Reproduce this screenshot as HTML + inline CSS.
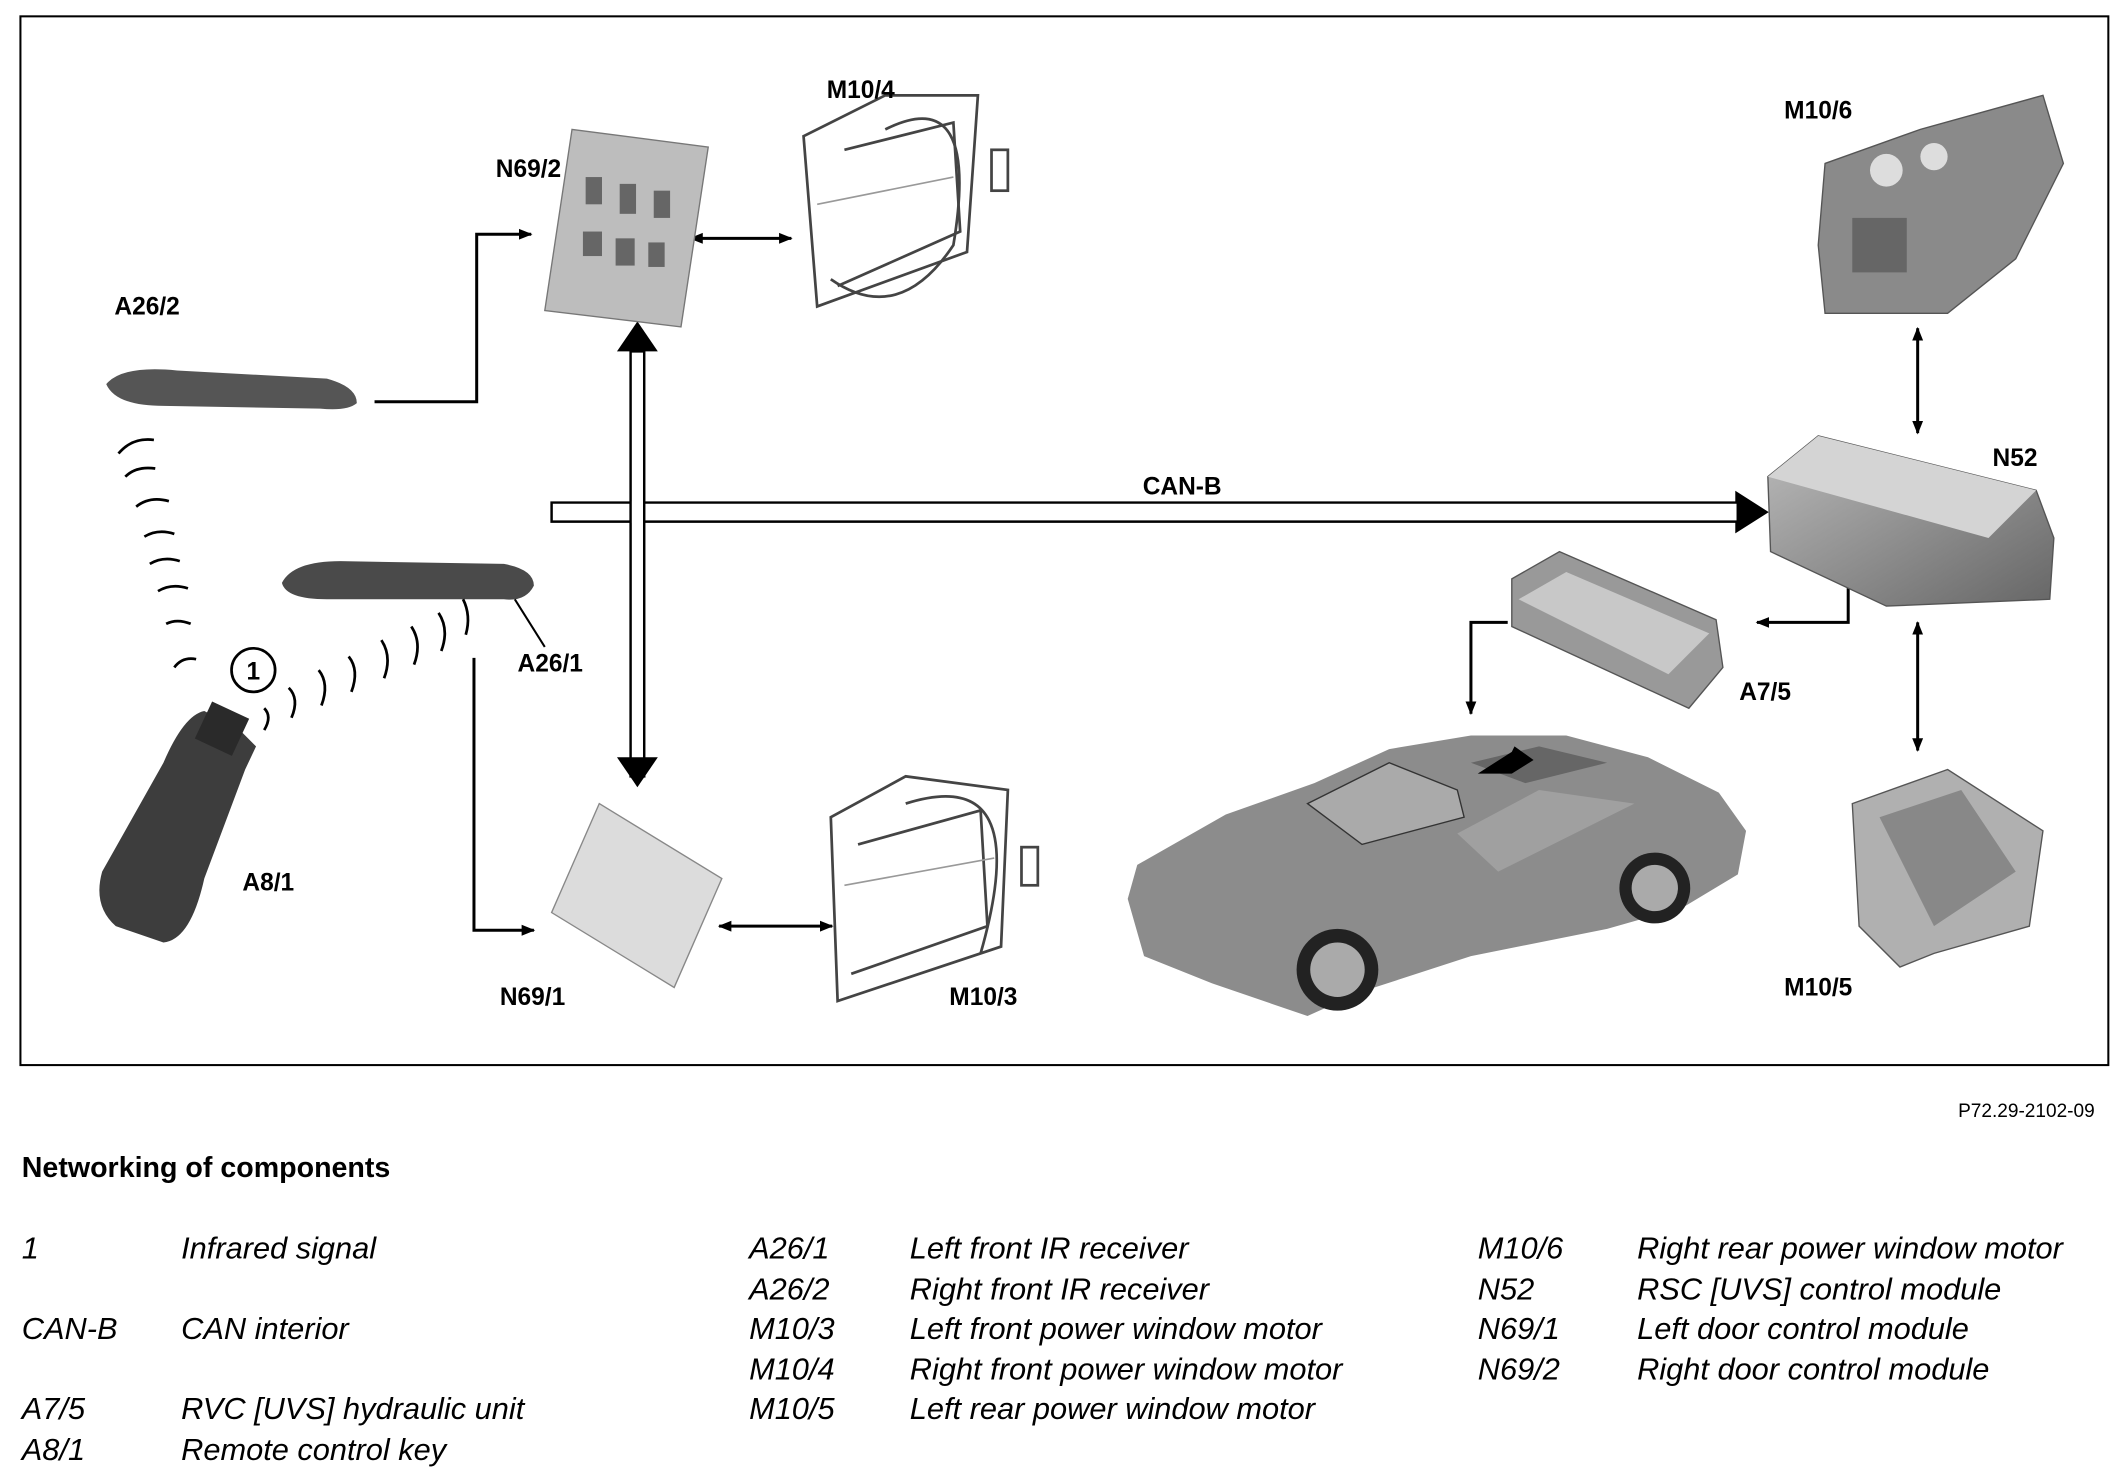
<!DOCTYPE html>
<html><head><meta charset="utf-8"><style>
html,body{margin:0;padding:0;background:#fff}
svg{display:block}
text{font-family:"Liberation Sans",Arial,sans-serif}
.b{font-weight:bold;font-size:18px}
.i{font-style:italic;font-size:22.6px}
</style></head><body>
<svg width="2124" height="1476" viewBox="0 0 1559.5 1083.7" preserveAspectRatio="none" xmlns="http://www.w3.org/2000/svg">
<defs>
<marker id="ah" markerWidth="10" markerHeight="10" refX="9" refY="5" orient="auto" markerUnits="userSpaceOnUse"><path d="M0,1 L10,5 L0,9 Z" fill="#000"/></marker>
<marker id="ahs" markerWidth="10" markerHeight="10" refX="1" refY="5" orient="auto" markerUnits="userSpaceOnUse"><path d="M10,1 L0,5 L10,9 Z" fill="#000"/></marker>
<linearGradient id="g1" x1="0" y1="0" x2="1" y2="1"><stop offset="0" stop-color="#bbb"/><stop offset="1" stop-color="#666"/></linearGradient>
</defs>
<rect x="15" y="12" width="1533" height="770" fill="none" stroke="#000" stroke-width="1.5"/>

<g stroke="#000" stroke-width="2.2" fill="none">
<path d="M275,295 H350 V172 H390" marker-end="url(#ah)"/>
<path d="M348,483 V683 H392" marker-end="url(#ah)"/>
<path d="M507,175 H581" marker-start="url(#ahs)" marker-end="url(#ah)"/>
<path d="M528,680 H611" marker-start="url(#ahs)" marker-end="url(#ah)"/>
<path d="M1408,241 V318" marker-start="url(#ahs)" marker-end="url(#ah)"/>
<path d="M1408,457 V551" marker-start="url(#ahs)" marker-end="url(#ah)"/>
<path d="M1357,430 V457 H1290" marker-end="url(#ah)"/>
<path d="M1107,457 H1080 V524" marker-end="url(#ah)"/>
</g>
<path d="M405,369 H1275 V362 L1297,376 L1275,390 V383 H405 Z" fill="#fff" stroke="#000" stroke-width="1.8"/>
<path d="M1275,362 L1297,376 L1275,390 Z" fill="#000"/>
<path d="M463,258 H473 V570 H463 Z" fill="#fff" stroke="#000" stroke-width="1.8"/>
<rect x="464" y="368" width="8" height="16" fill="#fff"/>
<path d="M453,258 L468,236 L483,258 Z" fill="#000"/>
<path d="M453,556 L468,578 L483,556 Z" fill="#000"/>

<path d="M78,282 Q90,268 130,272 L240,278 Q262,284 262,296 Q255,302 235,300 L120,298 Q85,298 78,282 Z" fill="#555"/>
<path d="M207,428 Q215,412 250,412 L370,414 Q392,418 392,430 Q386,442 370,440 L240,440 Q210,440 207,428 Z" fill="#4a4a4a"/>
<path d="M150,522 L175,535 L188,548 L180,565 L150,645 Q140,690 120,692 L85,680 Q68,665 75,640 L120,560 Q135,525 150,522 Z" fill="#3d3d3d"/>
<rect x="148" y="520" width="30" height="30" fill="#2a2a2a" transform="rotate(25 163 535)"/>
<g stroke="#000" stroke-width="2" fill="none">
<path d="M87,333 q10,-12 26,-10"/><path d="M92,350 q8,-8 22,-6"/><path d="M100,372 q10,-8 24,-4"/>
<path d="M106,394 q10,-6 22,-2"/><path d="M110,414 q10,-6 22,-2"/><path d="M116,434 q10,-6 22,-2"/>
<path d="M122,458 q8,-4 18,0"/><path d="M128,490 q6,-8 16,-6"/>
<path d="M194,520 q6,6 0,16"/><path d="M212,505 q8,8 2,22"/><path d="M234,492 q8,10 2,26"/>
<path d="M256,482 q8,10 2,26"/><path d="M280,470 q8,12 2,28"/><path d="M302,460 q8,12 2,28"/><path d="M322,450 q8,12 2,28"/><path d="M340,440 q6,12 2,26"/>
</g>
<circle cx="186" cy="492" r="16" fill="#fff" stroke="#000" stroke-width="2"/>
<text x="186" y="499" class="b" text-anchor="middle">1</text>

<path d="M420,95 L520,108 L500,240 L400,228 Z" fill="#bdbdbd" stroke="#777"/>
<g fill="#666"><rect x="430" y="130" width="12" height="20"/><rect x="455" y="135" width="12" height="22"/><rect x="480" y="140" width="12" height="20"/><rect x="428" y="170" width="14" height="18"/><rect x="452" y="175" width="14" height="20"/><rect x="476" y="178" width="12" height="18"/></g>
<path d="M440,590 L530,645 L495,725 L405,670 Z" fill="#dcdcdc" stroke="#888"/>
<g stroke="#444" stroke-width="2" fill="none">
<path d="M590,100 L650,70 L718,70 L710,185 L600,225 Z"/>
<path d="M620,110 L700,90 L705,170 L615,210"/>
<path d="M650,95 Q720,60 700,180 Q660,240 610,205"/>
<rect x="728" y="110" width="12" height="30"/>
<path d="M610,600 L665,570 L740,580 L735,695 L615,735 Z"/>
<path d="M630,620 L720,595 L725,680 L625,715"/>
<path d="M665,590 Q760,560 720,700"/>
<rect x="750" y="622" width="12" height="28"/>
</g>
<g stroke="#999" stroke-width="1.2" fill="none">
<path d="M600,150 L700,130"/><path d="M620,650 L730,630"/>
</g>
<path d="M1340,120 L1410,95 L1500,70 L1515,120 L1480,190 L1430,230 L1340,230 L1335,180 Z" fill="#8a8a8a" stroke="#555"/>
<circle cx="1385" cy="125" r="12" fill="#ddd"/><circle cx="1420" cy="115" r="10" fill="#ddd"/><rect x="1360" y="160" width="40" height="40" fill="#666"/>
<path d="M1360,590 L1430,565 L1500,610 L1490,680 L1420,700 L1395,710 L1365,680 Z" fill="#b0b0b0" stroke="#555"/>
<path d="M1380,600 L1440,580 L1480,640 L1420,680 Z" fill="#888"/>
<path d="M1298,350 L1335,320 L1495,360 L1508,395 L1505,440 L1385,445 L1300,405 Z" fill="url(#g1)" stroke="#555"/>
<path d="M1298,350 L1335,320 L1495,360 L1460,395 Z" fill="#d4d4d4"/>
<path d="M1110,425 L1145,405 L1260,455 L1265,490 L1240,520 L1110,460 Z" fill="#999" stroke="#555"/>
<path d="M1115,440 L1150,420 L1255,465 L1225,495 Z" fill="#c8c8c8"/>
<path d="M828,660 L835,635 L900,598 L965,575 L1020,550 L1080,540 L1150,540 L1210,556 L1262,582 L1282,610 L1276,642 L1236,666 L1180,682 L1080,702 L1000,728 L960,746 L890,722 L840,702 Z" fill="#8c8c8c"/>
<path d="M960,590 L1020,560 L1070,580 L1075,600 L1000,620 Z" fill="#aaa" stroke="#333"/>
<path d="M1080,560 L1130,548 L1180,560 L1120,575 Z" fill="#666"/>
<path d="M1070,612 L1130,580 L1200,590 L1100,640 Z" fill="#a0a0a0"/>
<circle cx="982" cy="712" r="30" fill="#222"/><circle cx="982" cy="712" r="20" fill="#aaa"/>
<circle cx="1215" cy="652" r="26" fill="#222"/><circle cx="1215" cy="652" r="17" fill="#aaa"/>
<path d="M1085,568 L1110,552 L1112,548 L1126,558 L1110,568 Z" fill="#000"/>

<text x="607" y="72" class="b">M10/4</text>
<text x="364" y="130" class="b">N69/2</text>
<text x="84" y="231" class="b">A26/2</text>
<text x="1310" y="87" class="b">M10/6</text>
<text x="1463" y="342" class="b">N52</text>
<text x="839" y="363" class="b">CAN-B</text>
<text x="380" y="493" class="b">A26/1</text>
<text x="1277" y="514" class="b">A7/5</text>
<text x="178" y="654" class="b">A8/1</text>
<text x="367" y="738" class="b">N69/1</text>
<text x="697" y="738" class="b">M10/3</text>
<text x="1310" y="731" class="b">M10/5</text>
<line x1="378" y1="440" x2="400" y2="475" stroke="#000" stroke-width="1.5"/>

<text x="1538" y="820" text-anchor="end" style="font-size:14px">P72.29-2102-09</text>
<text x="16" y="864" style="font-size:21px;font-weight:bold">Networking of components</text>
<g>
<text x="16" y="924" class="i">1</text><text x="133" y="924" class="i">Infrared signal</text>
<text x="16" y="983" class="i">CAN-B</text><text x="133" y="983" class="i">CAN interior</text>
<text x="16" y="1042" class="i">A7/5</text><text x="133" y="1042" class="i">RVC [UVS] hydraulic unit</text>
<text x="16" y="1072" class="i">A8/1</text><text x="133" y="1072" class="i">Remote control key</text>
<text x="550" y="924" class="i">A26/1</text><text x="668" y="924" class="i">Left front IR receiver</text>
<text x="550" y="954" class="i">A26/2</text><text x="668" y="954" class="i">Right front IR receiver</text>
<text x="550" y="983" class="i">M10/3</text><text x="668" y="983" class="i">Left front power window motor</text>
<text x="550" y="1013" class="i">M10/4</text><text x="668" y="1013" class="i">Right front power window motor</text>
<text x="550" y="1042" class="i">M10/5</text><text x="668" y="1042" class="i">Left rear power window motor</text>
<text x="1085" y="924" class="i">M10/6</text><text x="1202" y="924" class="i">Right rear power window motor</text>
<text x="1085" y="954" class="i">N52</text><text x="1202" y="954" class="i">RSC [UVS] control module</text>
<text x="1085" y="983" class="i">N69/1</text><text x="1202" y="983" class="i">Left door control module</text>
<text x="1085" y="1013" class="i">N69/2</text><text x="1202" y="1013" class="i">Right door control module</text>
</g>
</svg>
</body></html>
